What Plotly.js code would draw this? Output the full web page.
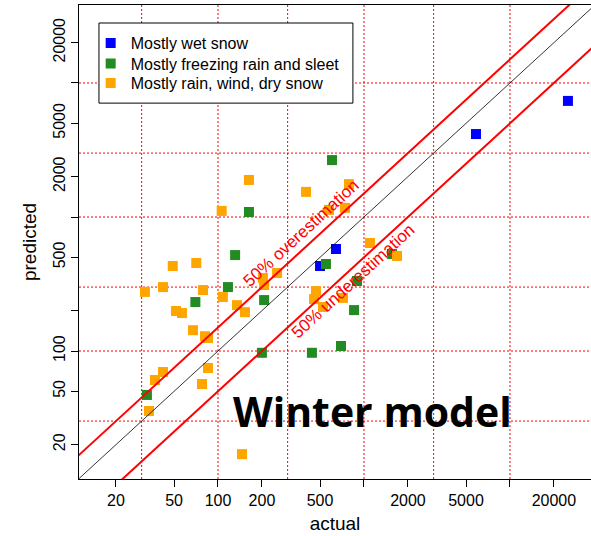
<!DOCTYPE html>
<html>
<head>
<meta charset="utf-8">
<script src="https://cdn.plot.ly/plotly-3.0.1.min.js"></script>
<style>
  html, body { margin: 0; padding: 0; background: #ffffff; }
  #chart { width: 591px; height: 536px; }
</style>
</head>
<body>
<div id="chart"></div>
<script>
// Winter model: predicted vs actual, both on log scales.
const seriesNames = ['Mostly wet snow', 'Mostly freezing rain and sleet', 'Mostly rain, wind, dry snow'];
const seriesColors = ['#0000FF', '#228B22', '#FFA500'];

const wetSnowActual = [5850, 24950, 643, 500];
const wetSnowPredicted = [4160, 7350, 577, 431];

const freezingActual = [604, 163, 131, 549, 117, 70, 207, 896, 855, 696, 440, 200, 32.6, 1555];
const freezingPredicted = [2660, 1090, 520, 446, 300, 232, 240, 333, 202, 109, 97, 97, 47, 530];

const rainActual = [163, 106, 789, 401, 741, 576, 1099, 1683, 49, 71, 31.6, 42, 79, 108, 51.6, 56.7,
  67.4, 81.5, 85.4, 135, 153, 203, 207, 254, 469, 455, 524, 718, 42, 37, 33.7, 85.4, 77.7, 146];
const rainPredicted = [1890, 1110, 1760, 1540, 1170, 1130, 640, 512, 431, 454, 276, 300, 285, 253, 199, 192,
  143, 129, 125, 220, 195, 351, 311, 382, 280, 244, 213, 249, 69.7, 60.8, 35.7, 74.7, 56.7, 17];

// Axis ticks (some positions carry a tick without a label)
const xTickVals = [20, 50, 100, 200, 500, 1000, 2000, 5000, 10000, 20000];
const xTickText = ['20', '50', '100', '200', '500', '', '2000', '5000', '', '20000'];
const yTickVals = [20, 50, 100, 200, 500, 1000, 2000, 5000, 10000, 20000];
const yTickText = ['20', '50', '100', '', '500', '', '2000', '5000', '', '20000'];

// Dotted reference grid
const gridVals = [30, 100, 300, 1000, 3000, 10000];

// Reference lines y = k * x : perfect fit, 50% over, 50% under
const refFactors = [1, 1.5, 0.5];
const refColors = ['#000000', '#FF0000', '#FF0000'];
const refWidths = [0.8, 2, 2];
const refSpan = [5, 60000];

const FONT = 'Arial, "Liberation Sans", sans-serif';

const groups = [
  [wetSnowActual, wetSnowPredicted],
  [freezingActual, freezingPredicted],
  [rainActual, rainPredicted]
];
// one legend per series so the rows can sit close together
const legendIds = ['legend', 'legend2', 'legend3'];
const legendTops = [0.9557, 0.9122, 0.8713];

const traces = groups.map((g, i) => ({
  type: 'scatter',
  mode: 'markers',
  name: seriesNames[i],
  legend: legendIds[i],
  x: g[0],
  y: g[1],
  marker: { symbol: 'square', size: 10, color: seriesColors[i], line: { width: 0 } },
  hoverinfo: 'x+y+name'
}));

refFactors.forEach((k, i) => {
  traces.push({
    type: 'scatter',
    mode: 'lines',
    x: refSpan,
    y: refSpan.map(v => v * k),
    line: { color: refColors[i], width: refWidths[i] },
    showlegend: false,
    hoverinfo: 'skip'
  });
});

const gridStyle = { color: '#FF0000', width: 1, dash: '2px,2px' };
const shapes = [];
gridVals.forEach(v => {
  shapes.push({ type: 'line', layer: 'below', xref: 'x', yref: 'paper', x0: v, x1: v, y0: 0, y1: 1, line: gridStyle });
  shapes.push({ type: 'line', layer: 'below', xref: 'paper', yref: 'y', x0: 0, x1: 1, y0: v, y1: v, line: gridStyle });
});
// legend frame
shapes.push({
  type: 'rect', layer: 'above', xref: 'paper', yref: 'paper',
  x0: 0.039, x1: 0.535, y0: 0.793, y1: 0.962,
  fillcolor: '#ffffff', line: { color: '#000000', width: 1 }
});

const layout = {
  width: 591,
  height: 536,
  margin: { l: 79, r: 0, t: 5, b: 57 },
  paper_bgcolor: '#ffffff',
  plot_bgcolor: '#ffffff',
  font: { family: FONT, size: 16, color: '#000000' },
  showlegend: true,
  xaxis: {
    type: 'log',
    range: [1.048, 4.555],
    tickmode: 'array', tickvals: xTickVals, ticktext: xTickText,
    ticks: 'outside', ticklen: 7, tickwidth: 1, tickcolor: '#000000',
    showline: true, linecolor: '#000000', linewidth: 1, mirror: true,
    showgrid: false, zeroline: false,
    tickfont: { family: FONT, size: 16 },
    title: { text: 'actual', font: { family: FONT, size: 19 }, standoff: 8 }
  },
  yaxis: {
    type: 'log',
    range: [1.045, 4.582],
    tickmode: 'array', tickvals: yTickVals, ticktext: yTickText,
    tickangle: -90,
    ticks: 'outside', ticklen: 7, tickwidth: 1, tickcolor: '#000000',
    showline: true, linecolor: '#000000', linewidth: 1, mirror: false,
    showgrid: false, zeroline: false,
    tickfont: { family: FONT, size: 16 },
    title: { text: 'predicted', font: { family: FONT, size: 19 }, standoff: 8 }
  },
  shapes: shapes,
  annotations: [
    {
      text: '50% overestimation', xref: 'paper', yref: 'paper',
      x: 0.4336, y: 0.5169, xanchor: 'center', yanchor: 'middle',
      textangle: -42.5, showarrow: false,
      font: { family: FONT, size: 17, color: '#FF0000' }
    },
    {
      text: '50% underestimation', xref: 'paper', yref: 'paper',
      x: 0.5342, y: 0.4177, xanchor: 'center', yanchor: 'middle',
      textangle: -42.5, showarrow: false,
      font: { family: FONT, size: 17, color: '#FF0000' }
    },
    {
      text: 'Winter model', xref: 'paper', yref: 'paper',
      x: 0.5742, y: 0.1435, xanchor: 'center', yanchor: 'middle',
      showarrow: false,
      font: { family: '"Open Sans", sans-serif', size: 41, color: '#000000', weight: 700 }
    }
  ]
};

legendIds.forEach((id, i) => {
  layout[id] = {
    x: 0.0228, y: legendTops[i], xanchor: 'left', yanchor: 'top',
    bgcolor: 'rgba(0,0,0,0)', borderwidth: 0,
    font: { family: FONT, size: 16, color: '#000000' }
  };
});

Plotly.newPlot('chart', traces, layout, { displayModeBar: false, staticPlot: true });
</script>
</body>
</html>
